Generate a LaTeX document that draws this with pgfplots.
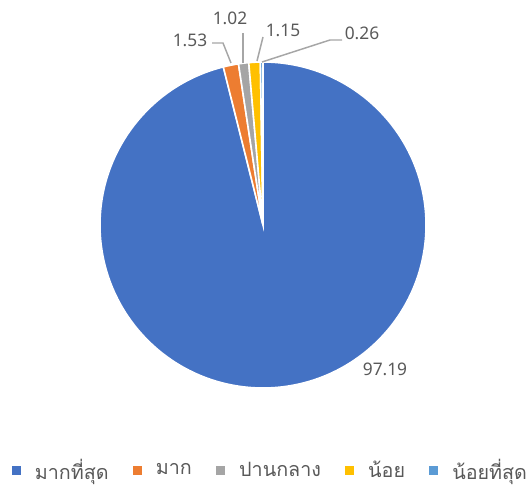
\documentclass[border=0pt]{standalone}
\usepackage{pgfplots}
\usepackage{pgfplotstable}
\pgfplotsset{compat=1.18}
\usepackage{fontspec}
\setmainfont{Noto Sans}
\newfontfamily\thaifont[Script=Thai]{Loma}

\definecolor{cBlue}{HTML}{4472C4}
\definecolor{cOrange}{HTML}{ED7D31}
\definecolor{cGray}{HTML}{A5A5A5}
\definecolor{cYellow}{HTML}{FFC000}
\definecolor{cLBlue}{HTML}{5B9BD5}
\definecolor{txt}{HTML}{595959}
\definecolor{lead}{HTML}{A6A6A6}

% share of each answer, in %
\pgfplotstableread{
value col
97.19 cBlue
1.53  cOrange
1.02  cGray
1.15  cYellow
0.26  cLBlue
}\piedata

\pgfplotsset{sq/.style={legend image code/.code={\fill[#1] (0pt,-3pt) rectangle (6pt,3pt);}}}

\begin{document}
\begin{tikzpicture}
% angles of the wedges, clockwise from 12 o'clock
\xdef\tot{0}
\foreach \i in {0,...,4}{
  \pgfplotstablegetelem{\i}{value}\of\piedata
  \pgfmathsetmacro\t{\tot+\pgfplotsretval}
  \xdef\tot{\t}
}
\xdef\cum{0}
\foreach \i in {0,...,4}{
  \pgfplotstablegetelem{\i}{value}\of\piedata
  \let\v\pgfplotsretval
  \expandafter\xdef\csname val\i\endcsname{\v}
  \pgfmathsetmacro\sa{90-360*(\cum/\tot)}
  \pgfmathsetmacro\c{\cum+\v}
  \pgfmathsetmacro\ea{90-360*(\c/\tot)}
  \expandafter\xdef\csname sa\i\endcsname{\sa}
  \expandafter\xdef\csname ea\i\endcsname{\ea}
  \xdef\cum{\c}
  \pgfplotstablegetelem{\i}{col}\of\piedata
  \expandafter\xdef\csname col\i\endcsname{\pgfplotsretval}
}
\def\R{122.25pt}
\begin{axis}[
  scale only axis, width=396.75pt, height=369pt,
  xmin=0, xmax=529, ymin=0, ymax=492,
  hide axis, clip=false,
  legend columns=5,
  legend style={at={(axis cs:270,22)}, anchor=center, draw=none, fill=none,
    inner sep=0pt, nodes={inner sep=1pt},
    font=\thaifont\fontsize{14.8}{17}\selectfont, text=txt,
    /tikz/every odd column/.append style={column sep=10pt},
    /tikz/every even column/.append style={column sep=17pt}},
]
\path (axis cs:0,0) rectangle (axis cs:529,492);
\pgfplotsinvokeforeach{0,...,4}{
  \fill[fill=\csname col#1\endcsname, draw=white, line width=1.2pt]
    (axis cs:263,267) -- ++(\csname sa#1\endcsname:\R)
    arc[start angle=\csname sa#1\endcsname, end angle=\csname ea#1\endcsname, radius=\R] -- cycle;
}
% leader lines
\draw[lead, line width=1.1pt] (axis cs:212,449) -- (axis cs:223,449) -- (axis cs:231,429);
\draw[lead, line width=1.1pt] (axis cs:243,459) -- (axis cs:243,429);
\draw[lead, line width=1.1pt] (axis cs:263,455) -- (axis cs:257,431);
\draw[lead, line width=1.1pt] (axis cs:342,452) -- (axis cs:330,452) -- (axis cs:262,430);
% value labels
\begin{scope}[every node/.style={text=txt, font=\fontsize{13}{15}\selectfont}]
\node at (axis cs:385,123) {\csname val0\endcsname};
\node at (axis cs:190,452) {\csname val1\endcsname};
\node at (axis cs:230,474) {\csname val2\endcsname};
\node at (axis cs:283,462) {\csname val3\endcsname};
\node at (axis cs:362,459) {\csname val4\endcsname};
\end{scope}
\addlegendimage{sq=cBlue}
\addlegendentry{มากที่สุด}
\addlegendimage{sq=cOrange}
\addlegendentry{มาก}
\addlegendimage{sq=cGray}
\addlegendentry{ปานกลาง}
\addlegendimage{sq=cYellow}
\addlegendentry{น้อย}
\addlegendimage{sq=cLBlue}
\addlegendentry{น้อยที่สุด}
\end{axis}
\end{tikzpicture}
\end{document}
